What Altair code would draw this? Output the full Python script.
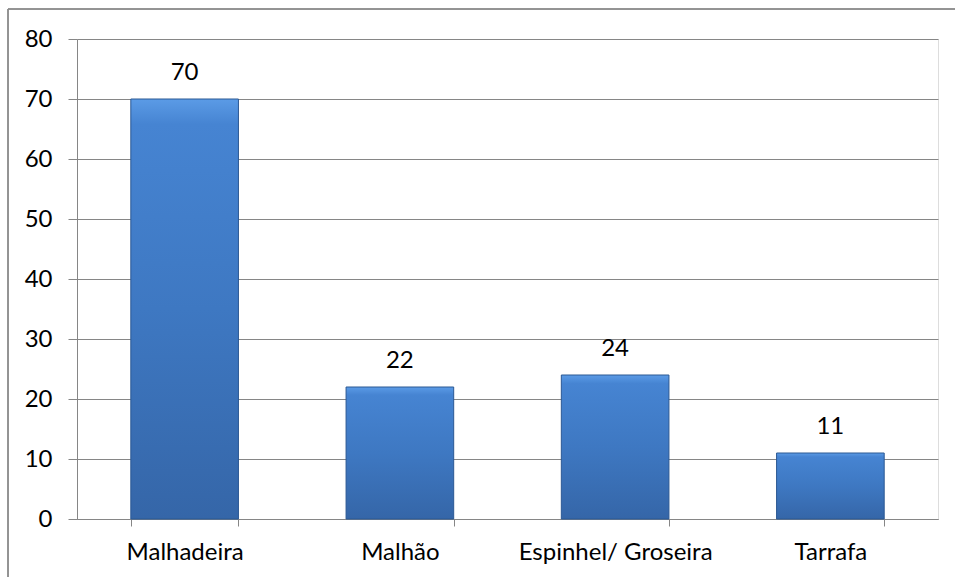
import altair as alt
import pandas as pd

categories = ["Malhadeira", "Malhão", "Espinhel/ Groseira", "Tarrafa"]
values = [70, 22, 24, 11]
y_ticks = [0, 10, 20, 30, 40, 50, 60, 70, 80]

df = pd.DataFrame({"cat": categories, "val": values})

FONT = "Lato"
FS = 24
GRID = "#868686"

x_enc = alt.X("cat:N", sort=categories, title=None,
              scale=alt.Scale(paddingInner=0.5, paddingOuter=0.25),
              axis=alt.Axis(labelAngle=0, labelFontSize=FS, labelFont=FONT, labelColor="#000000",
                            tickBand="extent", tickSize=7, tickColor=GRID, domainColor=GRID,
                            labelPadding=14, labelLimit=0, grid=False))
y_enc = alt.Y("val:Q", title=None,
              scale=alt.Scale(domain=[0, 80], nice=False),
              axis=alt.Axis(values=y_ticks, labelFontSize=FS, labelFont=FONT, labelColor="#000000",
                            tickSize=9, tickColor=GRID, domainColor=GRID, gridColor=GRID,
                            gridOpacity=1, labelPadding=16))

grad = alt.Gradient(
    gradient="linear", x1=0, y1=0, x2=0, y2=1,
    stops=[alt.GradientStop(color="#5b9be6", offset=0),
           alt.GradientStop(color="#4684d2", offset=0.06),
           alt.GradientStop(color="#3e78c2", offset=0.5),
           alt.GradientStop(color="#3566a8", offset=1)])

bars = alt.Chart(df).mark_bar(color=grad, stroke="#2b5893", strokeWidth=1).encode(x=x_enc, y=y_enc)

labels = alt.Chart(df).mark_text(dy=-26, fontSize=FS, font=FONT, color="#000000", baseline="middle").encode(
    x=alt.X("cat:N", sort=categories), y="val:Q", text="val:Q")

frame_left = alt.Chart(df).mark_rule(color="#8c8c8c", strokeWidth=1).encode(
    x=alt.value(-69), y=alt.value(-30), y2=alt.value(600))
frame_top = alt.Chart(df).mark_rule(color="#8c8c8c", strokeWidth=1).encode(
    x=alt.value(-69), x2=alt.value(950), y=alt.value(-30))

chart = alt.layer(bars, labels, frame_left, frame_top).properties(
    width=861, height=480,
    autosize=alt.AutoSizeParams(type="none"),
    padding={"left": 77, "top": 39, "right": 17, "bottom": 58},
).configure_view(stroke=None).configure(background="white")

chart.save("out.html", embed_options={"renderer": "svg", "actions": False})
